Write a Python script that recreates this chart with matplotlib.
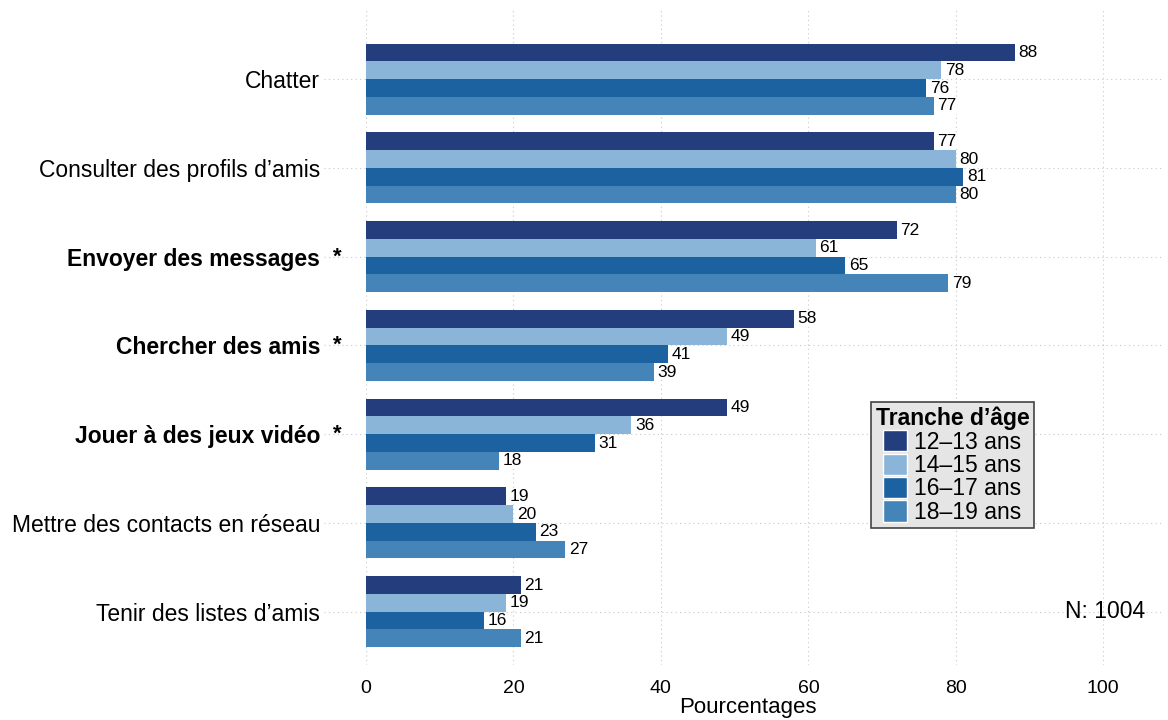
import numpy as np
import matplotlib.pyplot as plt
from matplotlib.patches import Patch

plt.rcParams['font.family'] = ['Liberation Sans', 'DejaVu Sans']

categories = ["Chatter", "Consulter des profils d\u2019amis", "Envoyer des messages",
              "Chercher des amis", "Jouer \u00e0 des jeux vid\u00e9o",
              "Mettre des contacts en r\u00e9seau", "Tenir des listes d\u2019amis"]
significant = [False, False, True, True, True, False, False]
groups = ["12\u201313 ans", "14\u201315 ans", "16\u201317 ans", "18\u201319 ans"]
v_12_13 = [88, 77, 72, 58, 49, 19, 21]
v_14_15 = [78, 80, 61, 49, 36, 20, 19]
v_16_17 = [76, 81, 65, 41, 31, 23, 16]
v_18_19 = [77, 80, 79, 39, 18, 27, 21]
colors = ["#233d7d", "#8ab4d8", "#1c62a0", "#4584b8"]

series = [v_12_13, v_14_15, v_16_17, v_18_19]

fig = plt.figure(figsize=(11.68, 7.2), dpi=100)
ax = fig.add_axes([366/1168, 1 - 665/720, 0.997 - 366/1168, 655/720])

y = np.arange(len(categories))
h = 0.2
for i, (vals, col) in enumerate(zip(series, colors)):
    pos = y - 0.3 + i * h
    ax.barh(pos, vals, height=h, color=col, label=groups[i], zorder=2)
    for p, v in zip(pos, vals):
        ax.text(v + 0.5, p, str(v), va='center', ha='left', fontsize=12.5,
                color='black', zorder=3,
                bbox=dict(facecolor='white', edgecolor='none', pad=0.3))

ax.set_xlim(0, 108.3)
ax.set_ylim(6.6, -0.78)
ax.set_xticks([0, 20, 40, 60, 80, 100])
ax.tick_params(axis='x', length=0, pad=11, labelsize=14)
ax.set_yticks(y)
ax.set_yticklabels(categories, fontsize=16.5)
ax.tick_params(axis='y', length=0, pad=33)
for lab, sig in zip(ax.get_yticklabels(), significant):
    if sig:
        lab.set_fontweight('bold')
for yy, sig in zip(y, significant):
    if sig:
        ax.text(-0.036, yy, "*", transform=ax.get_yaxis_transform(),
                ha='center', va='center', fontsize=16, fontweight='bold')

for s in ax.spines.values():
    s.set_visible(False)

for xv in [0, 20, 40, 60, 80, 100]:
    ax.axvline(xv, color='#c8c8c8', lw=0.8, ls=(0, (1, 3)), zorder=0)
for yy in y:
    ax.axhline(yy, xmin=-0.052, xmax=1, color='#c8c8c8', lw=0.8,
               ls=(0, (1, 3)), zorder=0, clip_on=False)

ax.set_xlabel("Pourcentages", fontsize=16)
ax.xaxis.set_label_coords(0.478, -0.0485)

handles = [Patch(facecolor=c, edgecolor='white') for c in colors]
leg = ax.legend(handles, groups, title="Tranche d\u2019\u00e2ge",
                loc='upper left', bbox_to_anchor=(871/1168, 1 - 402/720),
                bbox_transform=fig.transFigure, fontsize=16.5,
                title_fontproperties={'weight': 'bold', 'size': 16.5},
                frameon=True, fancybox=False, facecolor='#e5e5e5',
                edgecolor='#444444', framealpha=1, handlelength=1.05,
                handleheight=1.05, handletextpad=0.3, labelspacing=0.0,
                borderpad=0.2, borderaxespad=0)
leg.get_frame().set_linewidth(1.2)

fig.text(1145/1168, 1 - 612/720, "N: 1004", ha='right', va='center', fontsize=16.5)

fig.savefig("out.png", dpi=100)
